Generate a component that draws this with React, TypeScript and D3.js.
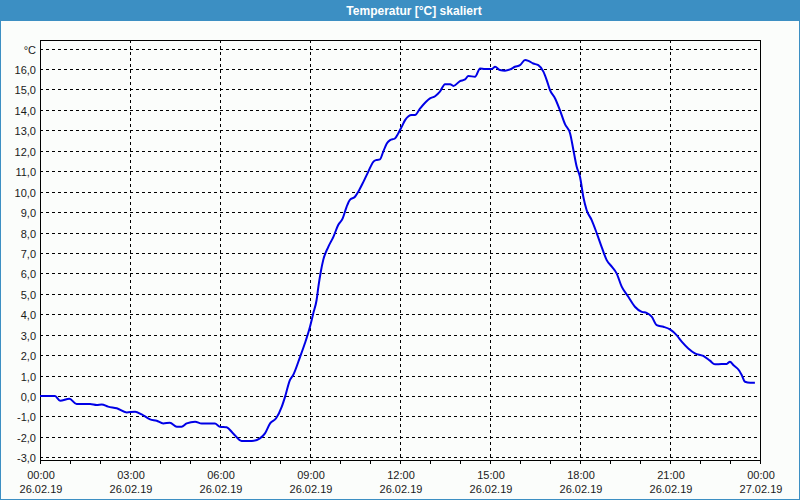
import React from 'react';
import * as d3 from 'd3';

// hours since 26.02.19 00:00
const hours = [
  0, 0.5, 0.67, 0.98, 1.22, 1.67, 1.89, 2.06, 2.27, 2.56, 2.89, 3.17, 3.39, 3.67, 3.89, 4.11, 4.33, 4.56, 4.72, 4.89,
  5.17, 5.39, 5.83, 6.0, 6.22, 6.44, 6.72, 7.06, 7.33, 7.5, 7.67, 7.87, 8.06, 8.17, 8.33, 8.44, 8.67, 8.83, 9.0, 9.11,
  9.22, 9.28, 9.36, 9.44, 9.61, 9.78, 9.94, 10.09, 10.22, 10.33, 10.5, 10.61, 10.78, 10.94, 11.11, 11.22, 11.33, 11.44,
  11.56, 11.67, 11.83, 11.94, 12.06, 12.17, 12.39, 12.5, 12.67, 13.0, 13.17, 13.33, 13.5, 13.67, 13.78, 14.0, 14.17,
  14.28, 14.5, 14.67, 14.83, 15.06, 15.17, 15.33, 15.5, 15.67, 15.83, 16.0, 16.17, 16.28, 16.44, 16.61, 16.78, 16.89,
  17.0, 17.17, 17.33, 17.5, 17.67, 17.78, 17.89, 18.0, 18.11, 18.22, 18.39, 18.56, 18.72, 18.89, 19.06, 19.22, 19.39,
  19.61, 19.83, 20.06, 20.22, 20.39, 20.56, 20.78, 21.0, 21.22, 21.39, 21.61, 21.83, 22.11, 22.33, 22.5, 22.72, 22.89,
  23.0, 23.11, 23.31, 23.39, 23.5, 23.67, 23.83,
];

const temps = [
  0.0, 0.0, -0.23, -0.13, -0.39, -0.39, -0.44, -0.41, -0.52, -0.6, -0.8, -0.77, -0.9, -1.14, -1.21, -1.34, -1.31, -1.5, -1.5, -1.34,
  -1.26, -1.35, -1.35, -1.5, -1.53, -1.83, -2.2, -2.2, -2.07, -1.83, -1.34, -1.09, -0.52, -0.03, 0.78, 1.03, 1.92, 2.58, 3.39, 4.05,
  4.7, 5.35, 6.08, 6.65, 7.3, 7.79, 8.37, 8.69, 9.26, 9.6, 9.75, 10.0, 10.48, 10.97, 11.46, 11.55, 11.58, 11.95,
  12.36, 12.52, 12.6, 12.85, 13.18, 13.5, 13.75, 13.75, 14.07, 14.56, 14.67, 14.89, 15.26, 15.26, 15.17, 15.41, 15.49,
  15.66, 15.62, 16.03, 16.0, 16.0, 16.11, 15.95, 15.92, 15.98, 16.11, 16.19, 16.44, 16.4, 16.27, 16.19, 15.87, 15.46,
  14.97, 14.56, 13.99, 13.3, 12.85, 12.04, 11.22, 10.73, 9.75, 9.1, 8.61, 7.96, 7.3, 6.65, 6.33, 6.0, 5.35,
  4.86, 4.37, 4.12, 4.07, 3.88, 3.47, 3.39, 3.26, 2.98, 2.66, 2.33, 2.09, 1.96, 1.73, 1.55, 1.57, 1.57,
  1.68, 1.52, 1.24, 1.03, 0.7, 0.65, 0.65,
];

const yTicks = [-3, -2, -1, 0, 1, 2, 3, 4, 5, 6, 7, 8, 9, 10, 11, 12, 13, 14, 15, 16, 17];
const xTicks = [0, 3, 6, 9, 12, 15, 18, 21, 24];
const timeLabels = ['00:00', '03:00', '06:00', '09:00', '12:00', '15:00', '18:00', '21:00', '00:00'];
const dateLabels = ['26.02.19', '26.02.19', '26.02.19', '26.02.19', '26.02.19', '26.02.19', '26.02.19', '26.02.19', '27.02.19'];
const title = 'Temperatur [°C] skaliert';
const unit = '°C';

const W = 800;
const H = 500;
const plot = { left: 40, top: 40, right: 760, bottom: 460 };
const font = '"Liberation Sans", Arial, sans-serif';

const App: React.FC = () => {
  const x = d3.scaleLinear().domain([0, 24]).range([plot.left, plot.right]);
  const y = d3.scaleLinear().domain([-3.13, 17.42]).range([plot.bottom, plot.top]);

  const points: [number, number][] = hours.map((h, i) => [h, temps[i]]);
  const line = d3.line<[number, number]>()
    .x(d => x(d[0]))
    .y(d => y(d[1]))
    .curve(d3.curveMonotoneX);

  const fmt = (v: number) => v.toFixed(1).replace('.', ',');
  const hourTicks = d3.range(0, 25);

  return (
    <svg width={W} height={H} style={{ position: 'fixed', left: 0, top: 0, display: 'block' }}>
      <rect x={0} y={0} width={W} height={H} fill="#fbfdfb" />
      <rect x={0.5} y={0.5} width={W - 1} height={H - 1} fill="none" stroke="#3c8fc3" strokeWidth={1} />
      <rect x={0} y={0} width={W} height={21} fill="#3c8fc3" />
      <text x={414} y={15} textAnchor="middle" fill="#ffffff" fontFamily={font} fontWeight="bold" fontSize={12}>
        {title}
      </text>

      {/* horizontal grid */}
      {yTicks.map(v => (
        <line key={'h' + v} x1={plot.left} x2={plot.right} y1={Math.round(y(v)) + 0.5} y2={Math.round(y(v)) + 0.5}
          stroke="#000" strokeWidth={1} strokeDasharray="3,3" shapeRendering="crispEdges" />
      ))}
      {/* vertical grid */}
      {xTicks.slice(1, -1).map(h => (
        <line key={'v' + h} x1={x(h) + 0.5} x2={x(h) + 0.5} y1={plot.top} y2={plot.bottom}
          stroke="#000" strokeWidth={1} strokeDasharray="3,3" shapeRendering="crispEdges" />
      ))}

      {/* frame */}
      <rect x={plot.left + 0.5} y={plot.top + 0.5} width={plot.right - plot.left} height={plot.bottom - plot.top}
        fill="none" stroke="#000" strokeWidth={1} shapeRendering="crispEdges" />

      {/* hour ticks */}
      {hourTicks.map(h => (
        <line key={'t' + h} x1={x(h) + 0.5} x2={x(h) + 0.5} y1={plot.bottom} y2={plot.bottom + 4}
          stroke="#000" strokeWidth={1} shapeRendering="crispEdges" />
      ))}

      {/* y labels */}
      {yTicks.map(v => (
        <text key={'yl' + v} x={36} y={Math.round(y(v)) + 4.5} textAnchor="end" fontFamily={font} fontSize={11} fill="#1a1a1a">
          {v === 17 ? unit : fmt(v)}
        </text>
      ))}

      {/* x labels */}
      {xTicks.map((h, i) => (
        <g key={'xl' + i}>
          <text x={x(h) + 1} y={479} textAnchor="middle" fontFamily={font} fontSize={11} fill="#1a1a1a">{timeLabels[i]}</text>
          <text x={x(h) + 1} y={493} textAnchor="middle" fontFamily={font} fontSize={11} fill="#1a1a1a">{dateLabels[i]}</text>
        </g>
      ))}

      <path d={line(points) || ''} fill="none" stroke="#0000e6" strokeWidth={2} strokeLinejoin="round" />
    </svg>
  );
};

export default App;
